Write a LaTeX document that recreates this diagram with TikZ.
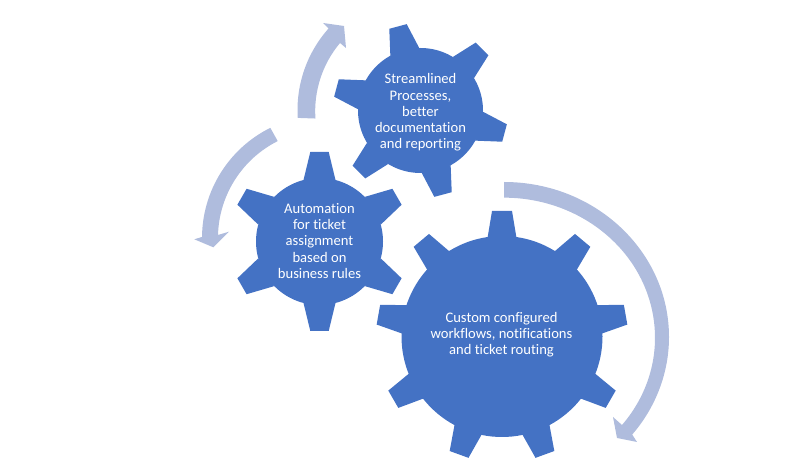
\documentclass[tikz,border=0pt]{standalone}
\usepackage{fontspec}
\setmainfont{Carlito}[Ligatures=NoCommon]
\definecolor{gearblue}{HTML}{4472C4}
\definecolor{arrowblue}{HTML}{AFBCDD}
\tikzset{
  gearlabel/.style={text=white,align=center,font=\fontsize{14.6}{16.3}\selectfont},
  arrowband/.style={fill=arrowblue,draw=none},
}
% centre, body radius, tip radius, half width at base and tip, tooth count, first angle
\newcommand{\drawgear}[7]{
  \fill[gearblue] (#1) circle (#2);
  \pgfmathsetmacro{\toothstep}{360/#6}
  \foreach \k in {1,...,#6}{
    \pgfmathsetmacro{\toothangle}{#7+\k*\toothstep-90}
    \fill[gearblue,shift={(#1)},rotate=\toothangle]
      (-#4,#2-2) -- (-#5,#3) -- (#5,#3) -- (#4,#2-2) -- cycle;
  }
}
\begin{document}
\begin{tikzpicture}[x=1pt,y=1pt]
\useasboundingbox (0,0) rectangle (795,463);
\coordinate (bigcentre) at (502,126.5);
\coordinate (leftcentre) at (319.5,221.5);
\coordinate (topcentre) at (420.5,352.5);
% the three gears
\drawgear{bigcentre}{100.5}{125.5}{14.5}{10}{9}{90}
\drawgear{leftcentre}{63.5}{89.5}{16}{9.2}{6}{90}
\drawgear{topcentre}{62.5}{87}{15}{9}{6}{105}
\node[gearlabel] (toplabel) at (420.5,350.5) {Streamlined\\Processes,\\better\\documentation\\and reporting};
\node[gearlabel] (leftlabel) at (319.5,222) {Automation\\for ticket\\assignment\\based on\\business rules};
\node[gearlabel] (biglabel) at (501.5,128.5) {Custom configured\\workflows, notifications\\and ticket routing};
% arrow round the big gear
\fill[arrowband] (504,126) ++(90:165 and 155)
  arc[start angle=90,end angle=-39,x radius=165,y radius=155]
  -- (637,21) -- (617,25) -- (613,46)
  -- (622,38)
  arc[start angle=-38.6,end angle=90,x radius=151,y radius=140] -- cycle;
% arrow going up beside the top gear
\fill[arrowband] (420,353) ++(183.7:122.5)
  arc[start angle=183.7,end angle=138.3,radius=122.5]
  -- (323,440) -- (344,437) -- (346,415) -- (340,420)
  arc[start angle=140,end angle=184,radius=106] -- cycle;
% arrow going down beside the left gear
\fill[arrowband] (325,225) ++(116.4:123)
  arc[start angle=116.4,end angle=179.5,radius=123]
  -- (194.3,223.7) -- (213.3,215.7) -- (229,231.3) -- (218,228)
  arc[start angle=178.4,end angle=116.7,radius=108.5] -- cycle;
\end{tikzpicture}
\end{document}
